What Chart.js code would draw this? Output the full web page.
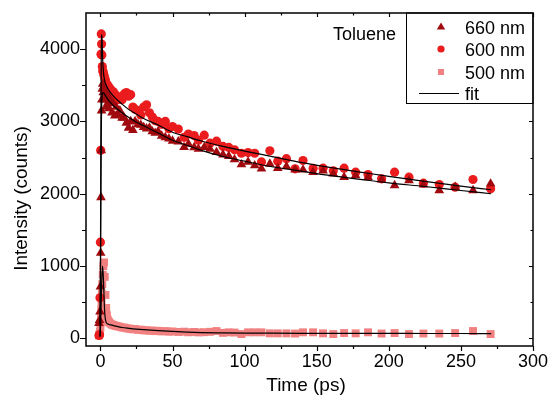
<!DOCTYPE html>
<html><head><meta charset="utf-8">
<script src="https://cdn.jsdelivr.net/npm/chart.js@4/dist/chart.umd.min.js"></script>
<style>html,body{margin:0;padding:0;background:#fff}#wrap{width:550px;height:396px}</style>
</head><body><div id="wrap"><canvas id="c" width="550" height="396"></canvas></div>
<script>
const time = [
  -1.0, -0.6, -0.3, 0, 0.2, 0.4, 0.6, 0.8, 1.0, 1.3,
  1.6, 2.0, 2.5, 3.0, 3.5, 4.0, 4.5, 5.0, 5.5, 6,
  7, 8, 9, 10, 11, 12, 13.5, 15, 16.5, 18,
  19.5, 21, 22.5, 24, 26, 28, 30, 32, 34, 36,
  38, 40, 42.5, 45, 47.5, 50, 54, 58, 61, 65,
  68, 72, 76, 80.5, 85, 89, 93, 97.8, 102.4, 107,
  111.7, 117.5, 123, 129, 135, 140.5, 147.5, 154.4, 161.5, 169,
  177, 185.6, 195, 204, 214, 224, 235, 246, 258.4, 270.6];
const i660 = [
  210, 250, 370, 713, 1180, 1950, 2600, 3150, 3300, 3450,
  3520, 3400, 3480, 3300, 3420, 3200, 3380, 3250, 3330, 3180,
  3300, 3120, 3250, 3080, 3200, 3100, 3150, 3050, 3050, 2980,
  2910, 3000, 2880, 3000, 2960, 2950, 2920, 2900, 2910, 2860,
  2840, 2860, 2800, 2780, 2760, 2730, 2720, 2643, 2690, 2640,
  2620, 2643, 2620, 2574, 2540, 2519, 2473, 2404, 2440, 2390,
  2345, 2413, 2353, 2376, 2331, 2331, 2298, 2317, 2276, 2229,
  2252, 2229, 2193, 2115, 2183, 2124, 2046, 2091, 2046, 2138];
const i600 = [
  40, 50, 560, 1330, 2600, 3930, 4210, 4070, 3920, 3760,
  3700, 3680, 3640, 3600, 3570, 3530, 3510, 3470, 3490, 3430,
  3450, 3380, 3410, 3330, 3360, 3300, 3320, 3300, 3380, 3400,
  3350, 3370, 3200, 3170, 3150, 3090, 3200, 3230, 3120, 3060,
  3010, 3000, 2960, 3000, 2900, 2930, 2895, 2780, 2825, 2805,
  2740, 2810, 2700, 2727, 2655, 2640, 2608, 2560, 2570, 2560,
  2440, 2595, 2450, 2485, 2345, 2460, 2350, 2354, 2317, 2354,
  2298, 2266, 2207, 2298, 2229, 2146, 2128, 2091, 2197, 2069];
const i500 = [
  40, 60, 90, 150, 220, 300, 400, 500, 620, 750,
  880, 1000, 1050, 850, 600, 420, 320, 260, 235, 220,
  205, 190, 185, 175, 170, 165, 160, 150, 148, 140,
  135, 132, 125, 128, 118, 120, 110, 112, 105, 108,
  100, 104, 96, 100, 92, 95, 88, 92, 84, 88,
  82, 85, 90, 101, 76, 83, 80, 59, 83, 83,
  83, 69, 69, 69, 66, 83, 83, 69, 59, 73,
  69, 83, 66, 73, 59, 66, 66, 73, 101, 59];

const fitTime = [-0.3, 0, 0.3, 0.6, 1, 1.5, 2, 3, 4, 5, 7, 10, 15, 20, 25, 30, 40, 50, 60, 70, 85, 100, 120, 140, 160, 180, 200, 225, 250, 271];
const fit660 = [200, 700, 1800, 2800, 3300, 3390, 3400, 3370, 3340, 3310, 3260, 3200, 3120, 3050, 2990, 2940, 2840, 2740, 2670, 2600, 2515, 2450, 2370, 2310, 2250, 2200, 2150, 2100, 2045, 2000];
const fit600 = [30, 900, 2800, 4000, 4200, 3900, 3700, 3560, 3500, 3460, 3400, 3330, 3240, 3160, 3100, 3040, 2950, 2850, 2790, 2730, 2655, 2590, 2510, 2430, 2360, 2300, 2240, 2170, 2105, 2055];
const fit500 = [20, 100, 300, 550, 850, 1000, 850, 350, 220, 200, 186, 172, 150, 138, 128, 120, 106, 95, 86, 80, 76, 73, 71, 70, 69, 68, 68, 67, 67, 66];

const xTicks = [0, 50, 100, 150, 200, 250, 300];
const yTicks = [0, 1000, 2000, 3000, 4000];
const seriesNames = ['660 nm', '600 nm', '500 nm', 'fit'];
const xTitle = 'Time (ps)';
const yTitle = 'Intensity (counts)';
const note = 'Toluene';

const C660 = 'rgb(160,10,14)';
const C600 = 'rgb(234,28,30)';
const C500 = 'rgb(241,128,128)';
const FONT = '"Liberation Sans", Arial, Helvetica, sans-serif';

const pts = (ys, xs) => ys.map((v, i) => ({x: xs[i], y: v}));

const decor = {
  id: 'decor',
  afterDatasetsDraw(chart) {
    const {ctx, chartArea: a, scales: {x, y}} = chart;
    ctx.save();
    ctx.strokeStyle = '#000';
    ctx.lineWidth = 1.2;
    ctx.beginPath();
    const xs = [];
    xTicks.forEach((v, i) => { xs.push([v, true]); if (i < xTicks.length - 1) xs.push([(v + xTicks[i + 1]) / 2, false]); });
    for (const [v, maj] of xs) {
      const p = Math.round(x.getPixelForValue(v)) + 0.5;
      ctx.moveTo(p, a.bottom); ctx.lineTo(p, a.bottom + (maj ? 5 : 3));
      ctx.moveTo(p, a.top); ctx.lineTo(p, a.top + (maj ? 4 : 2.5));
    }
    const ys = [];
    yTicks.forEach((v, i) => { ys.push([v, true]); const nx = i < yTicks.length - 1 ? yTicks[i + 1] : v + (v - yTicks[i - 1]); ys.push([(v + nx) / 2, false]); });
    for (const [v, maj] of ys) {
      const p = Math.round(y.getPixelForValue(v)) + 0.5;
      if (p < a.top + 1) continue;
      ctx.moveTo(a.left, p); ctx.lineTo(a.left - (maj ? 6 : 4), p);
      ctx.moveTo(a.right, p); ctx.lineTo(a.right - (maj ? 4 : 2.5), p);
    }
    ctx.stroke();

    ctx.fillStyle = '#000';
    ctx.font = '19px ' + FONT;
    ctx.textAlign = 'center';
    ctx.textBaseline = 'alphabetic';
    ctx.fillText(xTitle, 306, 391);
    ctx.save();
    ctx.translate(26.5, 198.5);
    ctx.rotate(-Math.PI / 2);
    ctx.fillText(yTitle, 0, 0);
    ctx.restore();

    ctx.font = '18px ' + FONT;
    ctx.textAlign = 'left';
    ctx.fillText(note, 333, 40);

    const L = 406.5, T = a.top, R = a.right, B = 103.5;
    ctx.fillStyle = '#fff';
    ctx.fillRect(L, T, R - L, B - T);
    ctx.lineWidth = 1;
    ctx.strokeStyle = '#000';
    ctx.strokeRect(L, T, R - L, B - T);
    ctx.lineWidth = 1.5;
    ctx.strokeRect(a.left, a.top, a.right - a.left, a.bottom - a.top);
    const mx = 441;
    ctx.fillStyle = C660;
    ctx.beginPath(); ctx.moveTo(mx, 22.5); ctx.lineTo(mx + 4.2, 29.5); ctx.lineTo(mx - 4.2, 29.5); ctx.closePath(); ctx.fill();
    ctx.fillStyle = C600;
    ctx.beginPath(); ctx.arc(mx, 49, 3.6, 0, Math.PI * 2); ctx.fill();
    ctx.fillStyle = C500;
    ctx.fillRect(mx - 3, 69, 6, 6);
    ctx.strokeStyle = '#000'; ctx.lineWidth = 1.2;
    ctx.beginPath(); ctx.moveTo(419, 93.5); ctx.lineTo(459, 93.5); ctx.stroke();
    ctx.fillStyle = '#000';
    ctx.font = '18px ' + FONT;
    ctx.textAlign = 'left';
    ctx.fillText(seriesNames[0], 465, 33.5);
    ctx.fillText(seriesNames[1], 465, 56);
    ctx.fillText(seriesNames[2], 465, 78.5);
    ctx.fillText(seriesNames[3], 465, 99.5);
    ctx.restore();
  }
};

const fitStyle = {type: 'scatter', showLine: true, borderColor: '#000', borderWidth: 1.2, pointRadius: 0, cubicInterpolationMode: 'monotone', order: 0, fill: false};

new Chart(document.getElementById('c'), {
  type: 'scatter',
  data: {
    datasets: [
      Object.assign({label: seriesNames[3], data: pts(fit660, fitTime)}, fitStyle),
      Object.assign({label: seriesNames[3], data: pts(fit600, fitTime)}, fitStyle),
      Object.assign({label: seriesNames[3], data: pts(fit500, fitTime)}, fitStyle),
      {label: seriesNames[0], data: pts(i660, time), pointStyle: 'triangle', pointRadius: 5.6, pointBackgroundColor: C660, pointBorderColor: C660, pointBorderWidth: 0, order: 1},
      {label: seriesNames[1], data: pts(i600, time), pointStyle: 'circle', pointRadius: 4.6, pointBackgroundColor: C600, pointBorderColor: C600, pointBorderWidth: 0, order: 2},
      {label: seriesNames[2], data: pts(i500, time), pointStyle: 'rect', pointRadius: 5.6, pointBackgroundColor: C500, pointBorderColor: C500, pointBorderWidth: 0, order: 3}
    ]
  },
  options: {
    responsive: false,
    devicePixelRatio: 1,
    animation: false,
    events: [],
    layout: {padding: {top: 13, right: 17, left: 0, bottom: 0}},
    plugins: {legend: {display: false}, tooltip: {enabled: false}},
    scales: {
      x: {
        type: 'linear', min: -10, max: 300,
        grid: {display: false, drawTicks: false},
        border: {display: false},
        ticks: {color: '#000', font: {family: FONT, size: 18}, padding: 5, maxRotation: 0, callback: v => String(v)},
        afterBuildTicks: s => { s.ticks = xTicks.map(v => ({value: v})); },
        afterFit: s => { s.height = 50; s.paddingLeft = 0; s.paddingRight = 0; }
      },
      y: {
        type: 'linear', min: -106, max: 4500,
        grid: {display: false, drawTicks: false},
        border: {display: false},
        ticks: {color: '#000', font: {family: FONT, size: 18}, padding: 6, callback: v => String(v)},
        afterBuildTicks: s => { s.ticks = yTicks.map(v => ({value: v})); },
        afterFit: s => { s.width = 86; s.paddingTop = 0; s.paddingBottom = 0; }
      }
    }
  },
  plugins: [decor]
});
</script>
</body></html>
